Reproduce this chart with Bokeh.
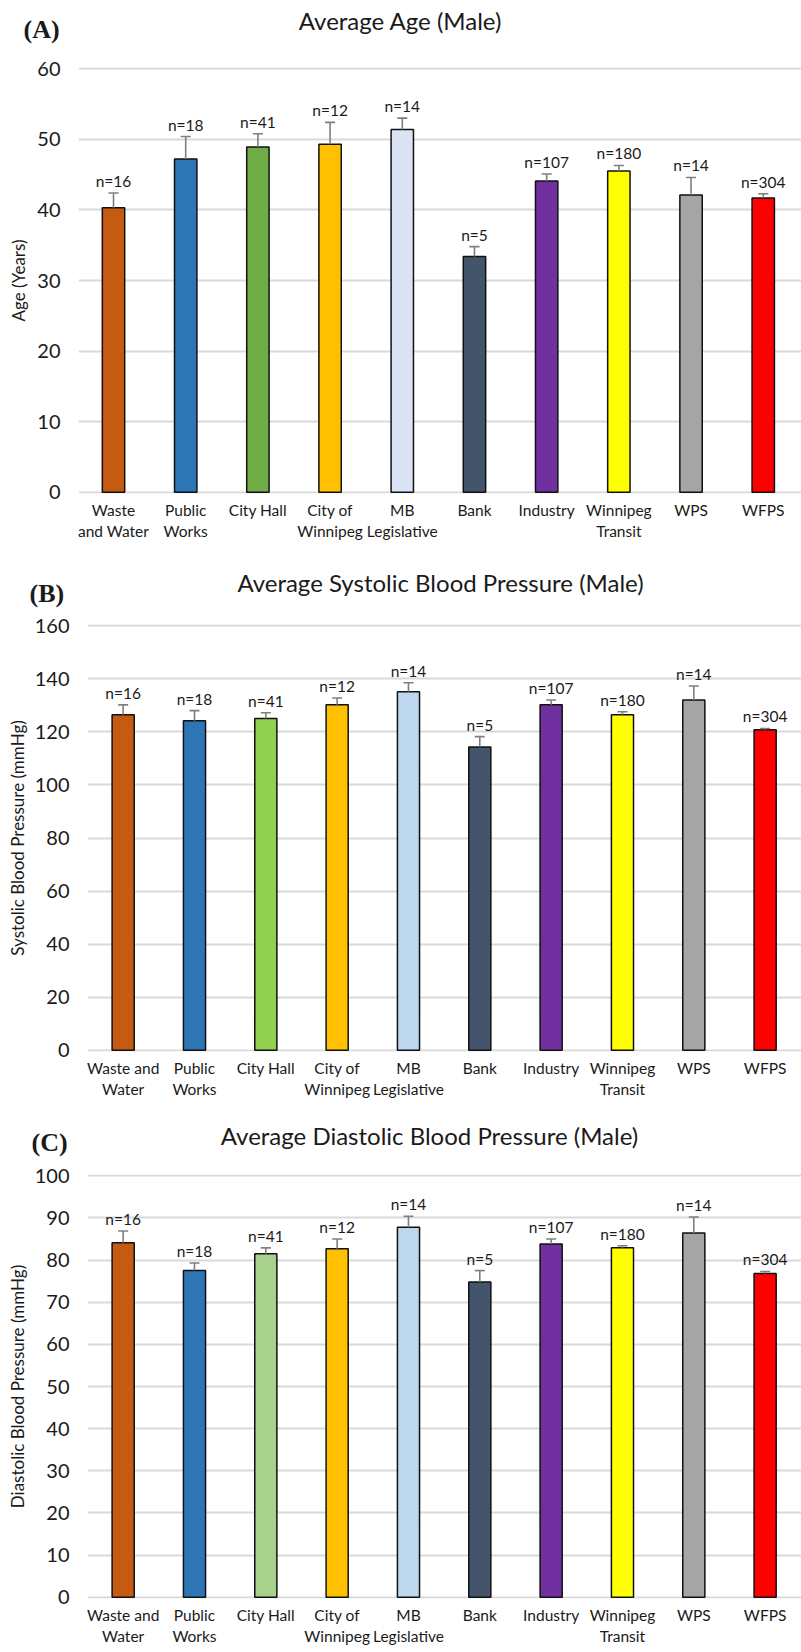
from bokeh.plotting import figure
from bokeh.models import FixedTicker, Range1d, ColumnDataSource
from bokeh.core.properties import value
from bokeh.embed import file_html
from bokeh.resources import INLINE

# ---------------- data ----------------
categories = ["Waste and Water", "Public Works", "City Hall", "City of Winnipeg",
              "MB Legislative", "Bank", "Industry", "Winnipeg Transit", "WPS", "WFPS"]
n_values = [16, 18, 41, 12, 14, 5, 107, 180, 14, 304]

ticklabels_a = ["Waste\nand Water", "Public\nWorks", "City Hall", "City of\nWinnipeg",
                "MB\nLegislative", "Bank", "Industry", "Winnipeg\nTransit", "WPS", "WFPS"]
ticklabels_bc = ["Waste and\nWater", "Public\nWorks", "City Hall", "City of\nWinnipeg",
                 "MB\nLegislative", "Bank", "Industry", "Winnipeg\nTransit", "WPS", "WFPS"]

age_mean = [40.3, 47.2, 48.9, 49.3, 51.4, 33.4, 44.1, 45.5, 42.1, 41.7]
age_err = [2.1, 3.2, 1.9, 3.1, 1.6, 1.4, 1.0, 0.8, 2.5, 0.6]

sbp_mean = [126.5, 124.2, 125.0, 130.2, 135.1, 114.3, 130.2, 126.5, 132.0, 120.8]
sbp_err = [3.7, 3.8, 2.2, 2.6, 3.4, 3.9, 1.8, 1.1, 5.3, 0.5]

dbp_mean = [84.1, 77.5, 81.5, 82.7, 87.8, 74.8, 83.8, 82.9, 86.4, 76.8]
dbp_err = [2.8, 1.8, 1.4, 2.3, 2.6, 2.7, 1.2, 0.5, 3.8, 0.5]

colors_a = ["#C55A11", "#2E75B6", "#70AD47", "#FFC000", "#DAE3F3",
            "#44546A", "#7030A0", "#FFFF00", "#A5A5A5", "#FF0000"]
colors_b = ["#C55A11", "#2E75B6", "#92D050", "#FFC000", "#BDD7EE",
            "#44546A", "#7030A0", "#FFFF00", "#A5A5A5", "#FF0000"]
colors_c = ["#C55A11", "#2E75B6", "#A9D18E", "#FFC000", "#BDD7EE",
            "#44546A", "#7030A0", "#FFFF00", "#A5A5A5", "#FF0000"]

yticks_a = [0, 10, 20, 30, 40, 50, 60]
yticks_b = [0, 20, 40, 60, 80, 100, 120, 140, 160]
yticks_c = [0, 10, 20, 30, 40, 50, 60, 70, 80, 90, 100]

FONT = "Lato"
TXT = "#1a1a1a"
W = 801


def make_header(letter, title, height, title_x, title_y, letter_x, letter_y):
    h = figure(width=W, height=height, output_backend="svg", toolbar_location=None,
               x_range=Range1d(0, W), y_range=Range1d(0, height),
               x_axis_type=None, y_axis_type=None, min_border=0, title=None)
    h.outline_line_color = None
    h.xgrid.grid_line_color = None
    h.ygrid.grid_line_color = None
    h.text(x=[title_x], y=[title_y], text=[title], text_align="center",
           text_baseline="middle", text_font=value(FONT), text_font_size="24px",
           text_color=TXT)
    h.text(x=[letter_x], y=[letter_y], text=[letter], text_align="left",
           text_baseline="middle", text_font=value("Liberation Serif"),
           text_font_size="26px", text_font_style="bold", text_color=TXT)
    return h


def make_panel(ylabel, means, errs, colors, ticklabels, yticks,
               height, btop, bbot, bleft, xstart, xend, ylabel_standoff):
    ymax = yticks[-1]
    pad = ymax * 0.003
    p = figure(width=W, height=height, output_backend="svg", toolbar_location=None,
               x_range=Range1d(xstart, xend), y_range=Range1d(-pad, ymax + pad),
               min_border_left=bleft, min_border_right=0,
               min_border_top=btop, min_border_bottom=bbot, title=None)
    p.outline_line_color = None

    xs = list(range(len(categories)))
    upper = [m + e for m, e in zip(means, errs)]
    src = ColumnDataSource(dict(
        x=xs, mean=means, upper=upper, color=colors,
        xl=[x - 0.07 for x in xs], xr=[x + 0.07 for x in xs],
        nlab=["n=%d" % n for n in n_values]))

    p.vbar(x="x", top="mean", bottom=0, width=0.31, fill_color="color",
           line_color="#111111", line_width=1.5, source=src)
    p.segment(x0="x", y0="mean", x1="x", y1="upper", line_color="#7F7F7F",
              line_width=1.6, source=src)
    p.segment(x0="xl", y0="upper", x1="xr", y1="upper", line_color="#7F7F7F",
              line_width=1.6, source=src)
    p.text(x="x", y="upper", text="nlab", text_align="center", text_baseline="bottom",
           y_offset=-3, text_font=value(FONT), text_font_size="15.5px",
           text_color=TXT, source=src)

    p.xaxis.ticker = FixedTicker(ticks=xs)
    p.xaxis.major_label_overrides = {i: lbl for i, lbl in enumerate(ticklabels)}
    p.xaxis.axis_line_color = None
    p.xaxis.major_tick_line_color = None
    p.xaxis.minor_tick_line_color = None
    p.xaxis.major_tick_out = 0
    p.xaxis.major_label_text_font = FONT
    p.xaxis.major_label_text_font_size = "15.5px"
    p.xaxis.major_label_text_color = TXT
    p.xaxis.major_label_standoff = 7

    p.yaxis.ticker = FixedTicker(ticks=yticks)
    p.yaxis.axis_line_color = None
    p.yaxis.major_tick_line_color = None
    p.yaxis.minor_tick_line_color = None
    p.yaxis.major_tick_out = 0
    p.yaxis.major_label_text_font = FONT
    p.yaxis.major_label_text_font_size = "20px"
    p.yaxis.major_label_text_color = TXT
    p.yaxis.major_label_standoff = 18
    p.yaxis.axis_label = ylabel
    p.yaxis.axis_label_text_font = FONT
    p.yaxis.axis_label_text_font_size = "17px"
    p.yaxis.axis_label_text_font_style = "normal"
    p.yaxis.axis_label_text_color = TXT
    p.yaxis.axis_label_standoff = ylabel_standoff

    p.xgrid.grid_line_color = None
    p.ygrid.grid_line_color = "#D9D9D9"
    p.ygrid.grid_line_width = 2
    return p


ha = make_header("(A)", "Average Age (Male)", 54, 400, 34, 23, 25)
pa = make_panel("Age (Years)", age_mean, age_err, colors_a, ticklabels_a, yticks_a,
                height=498, btop=13, bbot=59, bleft=78, xstart=-0.485, xend=9.53,
                ylabel_standoff=5)
hb = make_header("(B)", "Average Systolic Blood Pressure (Male)", 58, 440, 28, 29, 17)
pb = make_panel("Systolic Blood Pressure (mmHg)", sbp_mean, sbp_err, colors_b, ticklabels_bc,
                yticks_b, height=498, btop=14, bbot=57, bleft=87, xstart=-0.5, xend=9.51,
                ylabel_standoff=4)
hc = make_header("(C)", "Average Diastolic Blood Pressure (Male)", 52, 429, 25, 31, 18)
pc = make_panel("Diastolic Blood Pressure (mmHg)", dbp_mean, dbp_err, colors_c, ticklabels_bc,
                yticks_c, height=492, btop=14, bbot=54, bleft=87, xstart=-0.5, xend=9.51,
                ylabel_standoff=4)

# separate roots stacked in page flow (no cross-plot frame alignment)
open("out.html", "w").write(file_html([ha, pa, hb, pb, hc, pc], INLINE))
